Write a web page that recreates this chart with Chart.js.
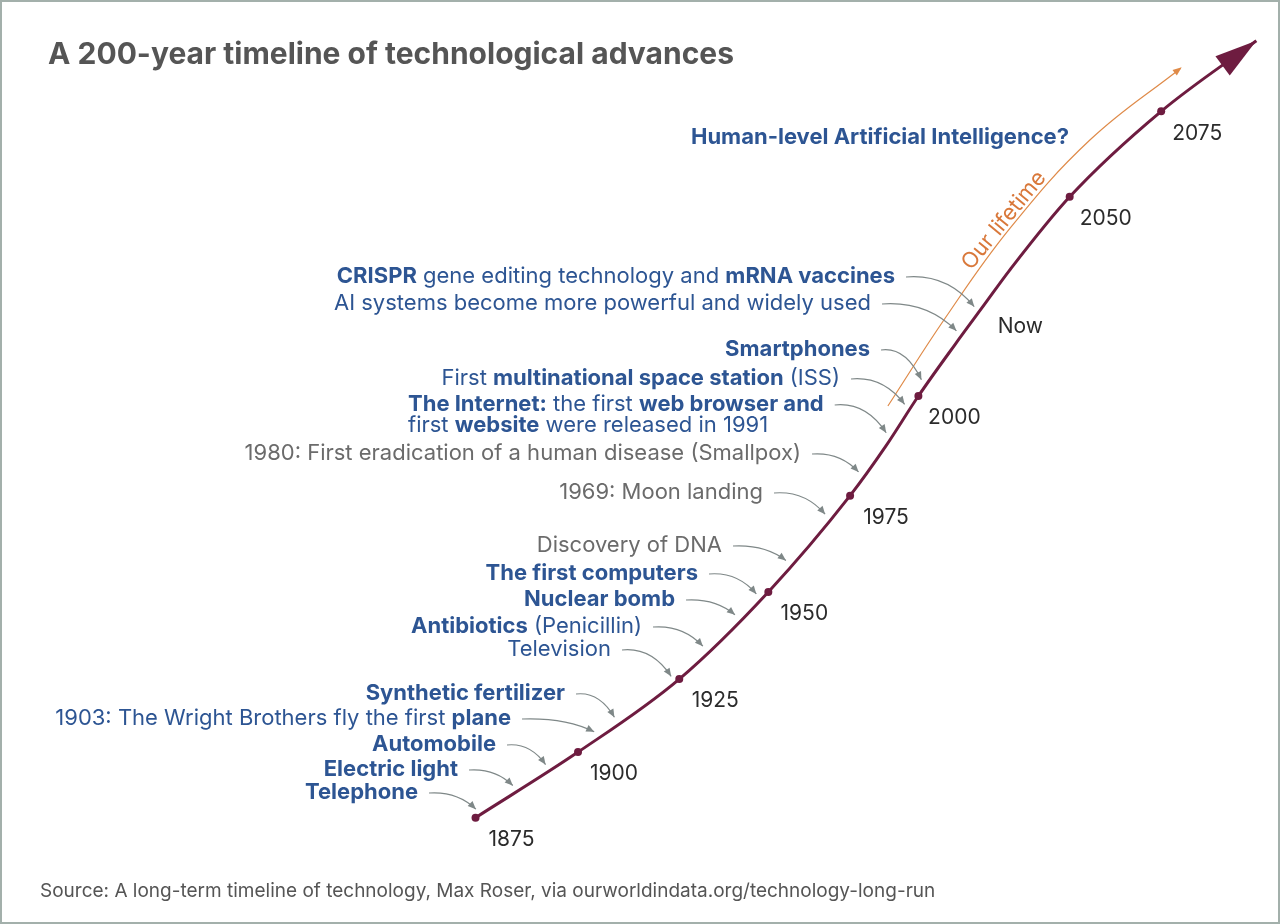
<!DOCTYPE html>
<html>
<head>
<meta charset="utf-8">
<title>A 200-year timeline of technological advances</title>
<script src="https://cdn.jsdelivr.net/npm/chart.js@4.4.0/dist/chart.umd.min.js"></script>
<style>
    html, body { margin: 0; padding: 0; background: #fff; }
    #wrap { width: 1280px; height: 924px; position: relative; }
</style>
</head>
<body>
<div id="wrap"><canvas id="techChart"></canvas></div>
<script>
// Main curve, in chart units (0-100 both ways). Labels mark the year dots.
const curveLabels = ['1875', '1900', '1925', '1950', '1975', '', '2000', '', 'Now', '', '2050', '2075', ''];
const curveMarked = [true, true, true, true, true, false, true, false, false, false, true, true, false];
const curveX = [35.7, 44.1, 52.4, 59.7, 66.4, 69.3, 72.0, 75.0, 77.4, 79.5, 84.4, 91.9, 99.7];
const curveY = [5.1, 13.0, 21.8, 32.3, 43.9, 49.8, 55.9, 62.1, 66.9, 71.1, 79.9, 90.2, 98.7];

// "Our lifetime" arrow
const lifetimeX = [69.5, 74.2, 79.5, 86.1, 93.5];
const lifetimeY = [54.7, 65.3, 76.1, 86.8, 95.4];

// Events (** marks bold) and where on the curve their arrows land
const events = [
    '**CRISPR** gene editing technology and **mRNA vaccines**',
    'AI systems become more powerful and widely used',
    '**Smartphones**',
    'First **multinational space station** (ISS)',
    '**The Internet:** the first **web browser and**\nfirst **website** were released in 1991',
    '1980: First eradication of a human disease (Smallpox)',
    '1969: Moon landing',
    'Discovery of DNA',
    '**The first computers**',
    '**Nuclear bomb**',
    '**Antibiotics** (Penicillin)',
    'Television',
    '**Synthetic fertilizer**',
    '1903: The Wright Brothers fly the first **plane**',
    '**Automobile**',
    '**Electric light**',
    '**Telephone**'
];
const eventYears = [2021, 2015, 2003, 1997, 1990, 1980, 1969, 1957, 1948, 1942, 1933, 1924, 1910, 1905, 1893, 1885, 1876];

// text placement of each event: anchor x, first line centre y, alignment, tone
const noteLayout = [
    [895, 276, 'right', 'blue'],
    [871, 303, 'right', 'blue'],
    [870, 349, 'right', 'blue'],
    [840, 378, 'right', 'blue'],
    [408, 404, 'left', 'blue'],
    [801, 453, 'right', 'grey'],
    [763, 492, 'right', 'grey'],
    [722, 545, 'right', 'grey'],
    [698, 573, 'right', 'blue'],
    [675, 599, 'right', 'blue'],
    [642, 626, 'right', 'blue'],
    [611, 649, 'right', 'blue'],
    [565, 693, 'right', 'blue'],
    [511, 718, 'right', 'blue'],
    [496, 744, 'right', 'blue'],
    [458, 769, 'right', 'blue'],
    [418, 792, 'right', 'blue']
];

const FONT = 'Inter, "Noto Sans", sans-serif';
const MAROON = '#6e1c40';
const BLUE = '#2d5593';
const GREY = '#6b6b6b';
const ORANGE = '#df8a48';

function drawRich(ctx, line, x, y, align, color, size) {
    const parts = line.split('**');
    let widths = [], total = 0;
    parts.forEach((p, i) => {
        ctx.font = (i % 2 ? '700 ' : '400 ') + size + 'px ' + FONT;
        const w = ctx.measureText(p).width;
        widths.push(w);
        total += w;
    });
    let left = align === 'right' ? x - total : align === 'center' ? x - total / 2 : x;
    let cx = left;
    ctx.fillStyle = color;
    ctx.textAlign = 'left';
    ctx.textBaseline = 'middle';
    parts.forEach((p, i) => {
        ctx.font = (i % 2 ? '700 ' : '400 ') + size + 'px ' + FONT;
        ctx.fillText(p, cx, y);
        cx += widths[i];
    });
    return { left: left, right: left + total };
}

function arrowHead(ctx, fromX, fromY, toX, toY, len, half, color) {
    const a = Math.atan2(toY - fromY, toX - fromX);
    ctx.save();
    ctx.fillStyle = color;
    ctx.beginPath();
    ctx.moveTo(toX, toY);
    ctx.lineTo(toX - len * Math.cos(a) + half * Math.sin(a), toY - len * Math.sin(a) - half * Math.cos(a));
    ctx.lineTo(toX - len * Math.cos(a) - half * Math.sin(a), toY - len * Math.sin(a) + half * Math.cos(a));
    ctx.closePath();
    ctx.fill();
    ctx.restore();
}

// find where a year sits on the drawn curve (walks the polyline between year dots)
function yearOnCurve(chart, year) {
    const pts = chart.getDatasetMeta(0).data;
    const idx = [];
    curveLabels.forEach((l, i) => { if (curveMarked[i]) idx.push(i); });
    let k = 0;
    while (k < idx.length - 2 && year > parseInt(curveLabels[idx[k + 1]])) k++;
    const y0 = parseInt(curveLabels[idx[k]]), y1 = parseInt(curveLabels[idx[k + 1]]);
    const t = (year - y0) / (y1 - y0);
    const seg = pts.slice(idx[k], idx[k + 1] + 1);
    let lens = [0];
    for (let i = 1; i < seg.length; i++) {
        lens.push(lens[i - 1] + Math.hypot(seg[i].x - seg[i - 1].x, seg[i].y - seg[i - 1].y));
    }
    const want = t * lens[lens.length - 1];
    let j = 1;
    while (j < seg.length - 1 && lens[j] < want) j++;
    const f = (want - lens[j - 1]) / (lens[j] - lens[j - 1]);
    const dx = seg[j].x - seg[j - 1].x, dy = seg[j].y - seg[j - 1].y;
    const d = Math.hypot(dx, dy);
    return { x: seg[j - 1].x + dx * f, y: seg[j - 1].y + dy * f, tx: dx / d, ty: dy / d };
}

const techOverlay = {
    id: 'techOverlay',
    beforeDraw(chart) {
        const ctx = chart.ctx;
        ctx.save();
        ctx.fillStyle = '#fff';
        ctx.fillRect(0, 0, chart.width, chart.height);
        ctx.restore();
    },
    afterDatasetsDraw(chart) {
        const ctx = chart.ctx;
        const main = chart.getDatasetMeta(0).data;
        const life = chart.getDatasetMeta(1).data;
        ctx.save();

        // big arrow at the end of the curve
        const n = main.length;
        arrowHead(ctx, main[n - 2].x, main[n - 2].y, main[n - 1].x, main[n - 1].y, 42, 12, MAROON);
        // small arrow on the lifetime line
        const m = life.length;
        arrowHead(ctx, life[m - 2].x, life[m - 2].y, life[m - 1].x + 1, life[m - 1].y - 1, 9, 3.5, ORANGE);

        // year labels
        ctx.font = '400 21px ' + FONT;
        ctx.fillStyle = '#2b2b2b';
        ctx.textAlign = 'center';
        ctx.textBaseline = 'middle';
        curveLabels.forEach((l, i) => {
            if (!l) return;
            ctx.fillText(l, main[i].x + 36, main[i].y + 22);
        });

        // "Our lifetime" label along the orange line
        const p0 = life[1], p1 = life[3], pm = life[2];
        const ang = Math.atan2(p1.y - p0.y, p1.x - p0.x);
        ctx.save();
        ctx.translate(pm.x - 6, pm.y - 8);
        ctx.rotate(ang);
        ctx.font = '400 22px ' + FONT;
        ctx.fillStyle = '#d9783a';
        ctx.textAlign = 'center';
        ctx.textBaseline = 'middle';
        ctx.fillText('Our lifetime', 0, 0);
        ctx.restore();

        // headline question, no arrow
        drawRich(ctx, '**Human-level Artificial Intelligence?**', 880, 137, 'center', BLUE, 22);

        // event notes with curved pointers
        events.forEach((txt, i) => {
            const [ax, ay, align, tone] = noteLayout[i];
            const lines = txt.split('\n');
            let first = null;
            lines.forEach((ln, li) => {
                const r = drawRich(ctx, ln, ax, ay + li * 21, align, tone === 'grey' ? GREY : BLUE, 22);
                if (li === 0) first = r;
            });
            const p = yearOnCurve(chart, eventYears[i]);
            const ex = p.x + p.ty * 7, ey = p.y - p.tx * 7;
            const sx = first.right + 11, sy = ay + 1;
            const cx = sx + 0.6 * (ex - sx), cy = sy - 0.12 * Math.abs(ey - sy);
            ctx.strokeStyle = '#7f8888';
            ctx.lineWidth = 1.2;
            ctx.beginPath();
            ctx.moveTo(sx, sy);
            ctx.quadraticCurveTo(cx, cy, ex, ey);
            ctx.stroke();
            arrowHead(ctx, cx, cy, ex, ey, 8, 3.5, '#7f8888');
        });

        // title and source
        ctx.font = '700 30px ' + FONT;
        ctx.fillStyle = '#555';
        ctx.textAlign = 'left';
        ctx.textBaseline = 'middle';
        ctx.fillText('A 200-year timeline of technological advances', 48, 55);
        ctx.font = '400 19px ' + FONT;
        ctx.fillStyle = '#555';
        ctx.fillText('Source: A long-term timeline of technology, Max Roser, via ourworldindata.org/technology-long-run', 40, 891);

        // frame
        ctx.strokeStyle = '#a3b0ab';
        ctx.lineWidth = 2;
        ctx.strokeRect(1, 1, chart.width - 2, chart.height - 2);
        ctx.restore();
    }
};

const ctx = document.getElementById('techChart').getContext('2d');
new Chart(ctx, {
    type: 'scatter',
    data: {
        datasets: [{
            label: 'Technology',
            data: curveX.map((x, i) => ({ x: x, y: curveY[i] })),
            showLine: true,
            borderColor: MAROON,
            borderWidth: 3,
            cubicInterpolationMode: 'monotone',
            pointRadius: c => curveMarked[c.dataIndex] ? 4 : 0,
            pointBackgroundColor: MAROON,
            pointBorderWidth: 0,
            clip: false
        }, {
            label: 'Our lifetime',
            data: lifetimeX.map((x, i) => ({ x: x, y: lifetimeY[i] })),
            showLine: true,
            borderColor: ORANGE,
            borderWidth: 1.2,
            tension: 0.4,
            pointRadius: 0,
            clip: false
        }]
    },
    options: {
        responsive: true,
        maintainAspectRatio: false,
        animation: false,
        events: [],
        layout: { padding: { left: 40, right: 20, top: 30, bottom: 64 } },
        scales: {
            x: { type: 'linear', min: 0, max: 100, display: false },
            y: { type: 'linear', min: 0, max: 100, display: false }
        },
        plugins: {
            legend: { display: false },
            tooltip: { enabled: false }
        }
    },
    plugins: [techOverlay]
});
</script>
</body>
</html>
